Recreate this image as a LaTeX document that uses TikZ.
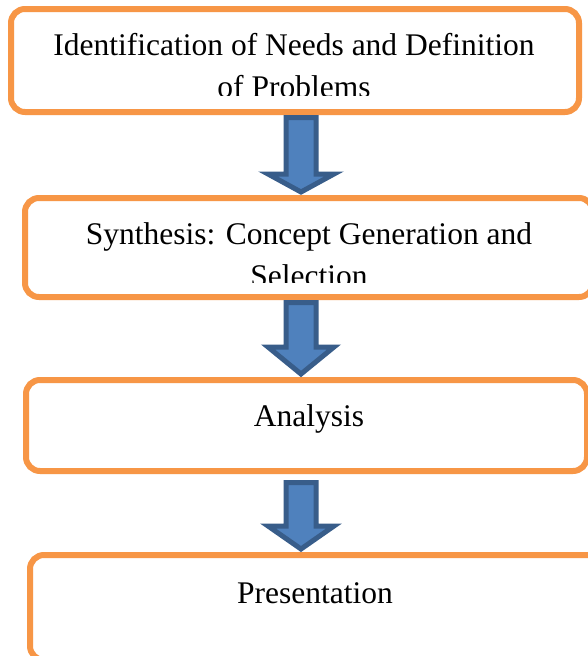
\documentclass[tikz,border=0pt]{standalone}
\usepackage{fontspec}
\setmainfont{Liberation Serif}
\usetikzlibrary{calc}

\definecolor{boxorange}{HTML}{F79646}
\definecolor{arrowblue}{HTML}{4F81BD}
\definecolor{arrowedge}{HTML}{385D8A}

% block arrow: from node, to node, shaft start offset, head length
\newcommand{\blockarrow}[4]{%
  \draw[blockarrow] let \p1=($(#1.south -| ax)+(0,#3)$), \p2=($(#2.north -| ax)+(0,-3)$) in
    (\x1-15pt,\y1) -- (\x1+15pt,\y1) -- (\x1+15pt,\y2+#4) -- (\x1+33pt,\y2+#4)
    -- (\x2,\y2) -- (\x1-33pt,\y2+#4) -- (\x1-15pt,\y2+#4) -- cycle;}

\begin{document}
\begin{tikzpicture}[x=1pt, y=-1pt,
    stagebox/.style={rectangle, rounded corners=14pt, draw=boxorange, line width=6pt, fill=white},
    stagetext/.style={font=\fontsize{31.5}{42}\selectfont, align=center, inner sep=0pt, anchor=base},
    blockarrow/.style={draw=arrowedge, fill=arrowblue, line width=5pt, line join=miter},
]
\useasboundingbox[fill=white] (0,0) rectangle (588,656);

\node[stagebox, minimum width=568pt, minimum height=103pt](b1) at (295,60.5){};
\node[stagebox, minimum width=568pt, minimum height=99pt](b2) at (309,247.5){};
\node[stagebox, minimum width=561pt, minimum height=91pt](b3) at (306.5,425.5){};
\node[stagebox, minimum width=570pt, minimum height=105pt](b4) at (315,607.5){};

% second lines are cut off by the box (base = last line)
\begin{scope}
\clip (b1.north west) rectangle (b1.east |- 0,95);
\node[stagetext](t1) at (294,97){Identification of Needs and Definition\\of Problems};
\end{scope}
\begin{scope}
\clip (b2.north west) rectangle (b2.east |- 0,282);
\node[stagetext](t2) at (309,286){Synthesis: Concept Generation and\\Selection};
\end{scope}
\node[stagetext](t3) at (309,426){Analysis};
\node[stagetext](t4) at (315,603){Presentation};

\coordinate (ax) at (301,0);
\blockarrow{b1}{b2}{2.5}{18pt}
\blockarrow{b2}{b3}{2.5}{27pt}
\blockarrow{b3}{b4}{8.5}{23pt}
\end{tikzpicture}
\end{document}
